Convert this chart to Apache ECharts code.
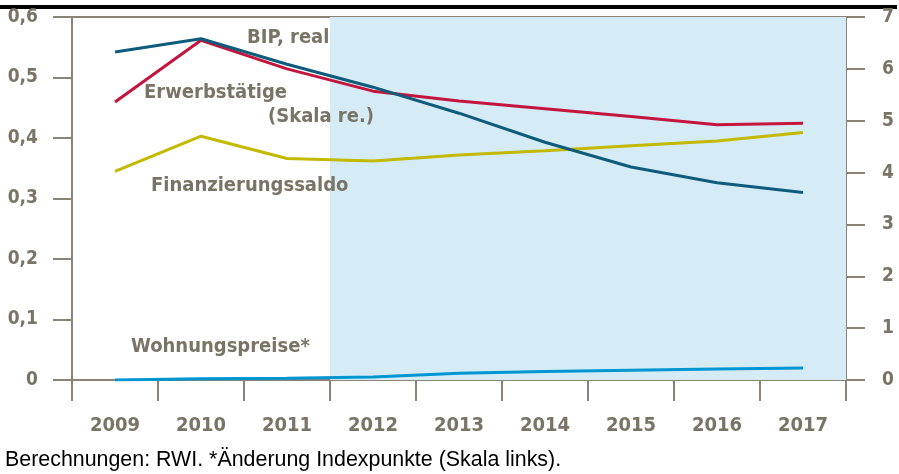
<!DOCTYPE html>
<html>
<head>
<meta charset="utf-8">
<script src="https://cdn.jsdelivr.net/npm/echarts@6/dist/echarts.min.js"></script>
<style>
  html, body { margin: 0; padding: 0; background: #fff; }
  #chart1 { width: 899px; height: 474px; }
</style>
</head>
<body>
<div id="chart1"></div>
<script>
// Jahre
var years = ['2009', '2010', '2011', '2012', '2013', '2014', '2015', '2016', '2017'];
// linke Skala
var bipReal = [0.542, 0.564, 0.522, 0.484, 0.441, 0.393, 0.352, 0.326, 0.310];
var finanzierungssaldo = [0.345, 0.403, 0.366, 0.362, 0.372, 0.379, 0.387, 0.395, 0.409];
var wohnungspreise = [0.000, 0.002, 0.003, 0.005, 0.011, 0.014, 0.016, 0.018, 0.020];
// rechte Skala
var erwerbstaetige = [5.36, 6.55, 6.00, 5.57, 5.38, 5.23, 5.08, 4.92, 4.95];
// Prognosezeitraum (Index auf der Kategorienachse)
var prognoseVon = 2.5;
var prognoseBis = 8.5;

var grau = '#8a8478';
var textGrau = '#7a7467';
var schrift = "'Liberation Sans Narrow', 'DejaVu Sans Condensed', 'Liberation Sans', sans-serif";

function chart() {
  var minechart1 = echarts.init(document.getElementById('chart1'));
  var option = {
    animation: false,
    grid: {
      left: 72,
      right: 53,
      top: 17,
      bottom: 94
    },
    xAxis: [{
      type: 'category',
      data: years,
      boundaryGap: true,
      position: 'bottom',
      axisLine: { onZero: false, lineStyle: { color: grau, width: 2 } },
      axisTick: { show: true, length: 21, lineStyle: { color: grau, width: 2 } },
      axisLabel: {
        margin: 36,
        color: textGrau,
        fontSize: 20,
        fontWeight: 'bold',
        fontFamily: schrift
      },
      splitLine: { show: false }
    }, {
      // versteckte Wertachse für den Prognose-Bereich, oben als Rahmenlinie
      type: 'value',
      min: -0.5,
      max: 8.5,
      position: 'top',
      axisLine: { show: true, onZero: false, lineStyle: { color: grau, width: 2 } },
      axisTick: { show: false },
      axisLabel: { show: false },
      splitLine: { show: false }
    }],
    yAxis: [{
      type: 'value',
      min: 0,
      max: 0.6,
      interval: 0.1,
      position: 'left',
      axisLine: { show: true, onZero: false, lineStyle: { color: grau, width: 2 } },
      axisTick: { show: true, length: 19, lineStyle: { color: grau, width: 2 } },
      axisLabel: {
        margin: 34,
        color: textGrau,
        fontSize: 19,
        fontWeight: 'bold',
        fontFamily: schrift,
        formatter: function (v) { return v === 0 ? '0' : v.toFixed(1).replace('.', ','); }
      },
      splitLine: { show: false }
    }, {
      type: 'value',
      min: 0,
      max: 7,
      interval: 1,
      position: 'right',
      axisLine: { show: true, onZero: false, lineStyle: { color: grau, width: 2 } },
      axisTick: { show: true, length: 19, lineStyle: { color: grau, width: 2 } },
      axisLabel: {
        margin: 36,
        color: textGrau,
        fontSize: 19,
        fontWeight: 'bold',
        fontFamily: schrift
      },
      splitLine: { show: false }
    }],
    graphic: [{
      type: 'line',
      shape: { x1: 0, y1: 7, x2: 897, y2: 7 },
      style: { stroke: '#000', lineWidth: 4 }
    }, {
      type: 'text', left: 247, top: 28, z: 100,
      style: { text: 'BIP, real', fill: textGrau, font: 'bold 20px ' + schrift }
    }, {
      type: 'text', left: 144, top: 83, z: 100,
      style: { text: 'Erwerbstätige', fill: textGrau, font: 'bold 20px ' + schrift }
    }, {
      type: 'text', left: 268, top: 107, z: 100,
      style: { text: '(Skala re.)', fill: textGrau, font: 'bold 20px ' + schrift }
    }, {
      type: 'text', left: 151, top: 176, z: 100,
      style: { text: 'Finanzierungssaldo', fill: textGrau, font: 'bold 20px ' + schrift }
    }, {
      type: 'text', left: 131, top: 337, z: 100,
      style: { text: 'Wohnungspreise*', fill: textGrau, font: 'bold 20px ' + schrift }
    }, {
      type: 'text', left: 5, top: 450, z: 100,
      style: { text: 'Berechnungen: RWI. *Änderung Indexpunkte (Skala links).', fill: '#000', font: '21.4px "Liberation Sans", Arial, sans-serif' }
    }],
    series: [{
      name: 'Prognose',
      type: 'line',
      xAxisIndex: 1,
      yAxisIndex: 0,
      data: [],
      silent: true,
      z: 1,
      markArea: {
        silent: true,
        itemStyle: { color: '#d5ebf5' },
        data: [[{ xAxis: prognoseVon }, { xAxis: prognoseBis }]]
      }
    }, {
      name: 'Finanzierungssaldo',
      type: 'line',
      yAxisIndex: 0,
      data: finanzierungssaldo,
      symbol: 'none',
      z: 3,
      lineStyle: { color: '#c2b900', width: 3 }
    }, {
      name: 'Wohnungspreise',
      type: 'line',
      yAxisIndex: 0,
      data: wohnungspreise,
      symbol: 'none',
      z: 3,
      lineStyle: { color: '#0096d2', width: 3 }
    }, {
      name: 'Erwerbstätige',
      type: 'line',
      yAxisIndex: 1,
      data: erwerbstaetige,
      symbol: 'none',
      z: 4,
      lineStyle: { color: '#c4153c', width: 3 }
    }, {
      name: 'BIP, real',
      type: 'line',
      yAxisIndex: 0,
      data: bipReal,
      symbol: 'none',
      z: 5,
      lineStyle: { color: '#0f5b7c', width: 3 }
    }]
  };
  minechart1.setOption(option);
}
chart();
</script>
</body>
</html>
